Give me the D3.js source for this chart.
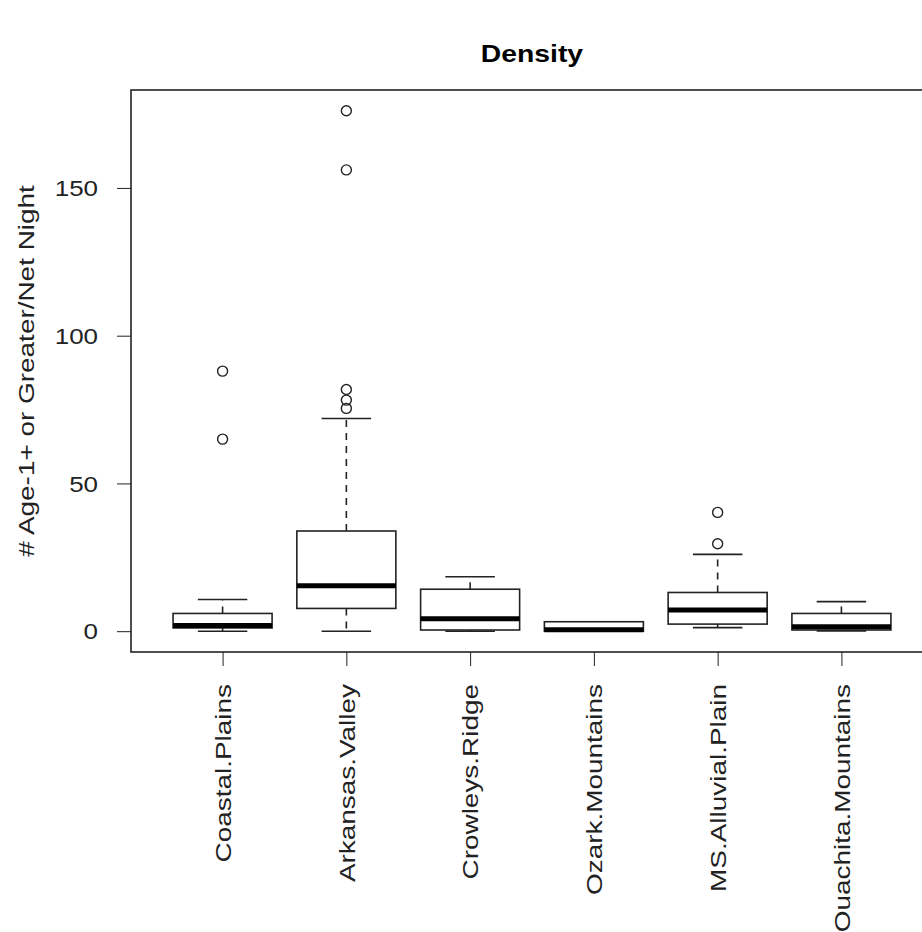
<!DOCTYPE html>
<html>
<head>
<meta charset="utf-8">
<script src="https://cdn.jsdelivr.net/npm/d3@7"></script>
<style>
  html, body { margin: 0; padding: 0; background: #fff; }
  svg { display: block; font-family: "Liberation Sans", Arial, sans-serif; }
</style>
</head>
<body>
<div id="chart"></div>
<script>
// --- data ---
const categories = ["Coastal.Plains", "Arkansas.Valley", "Crowleys.Ridge", "Ozark.Mountains", "MS.Alluvial.Plain", "Ouachita.Mountains"];
const whiskerLow = [0, 0, 0, 0, 1.2, 0.1];
const q1 = [1.1, 7.7, 0.4, 0, 2.4, 0.4];
const median = [1.9, 15.4, 4.2, 0.5, 7.2, 1.5];
const q3 = [6.0, 33.9, 14.2, 3.2, 13.1, 6.0];
const whiskerHigh = [10.7, 72.0, 18.4, 3.2, 26.0, 10.0];
const outliers = [
  [65.0, 88.0],
  [75.4, 78.2, 81.8, 156.1, 176.1],
  [],
  [],
  [29.6, 40.2],
  []
];
const yTicks = [0, 50, 100, 150];

const width = 922, height = 932;
// plot region (right edge runs past the canvas, as in the reference)
const margin = { top: 90, left: 131, bottom: 280 };
const plotRight = 933;
const plotBottom = height - margin.bottom;

const svg = d3.select("#chart").append("svg")
  .attr("width", width)
  .attr("height", height);

// R style axis extension: 4% on each side
const n = categories.length;
const x = d3.scaleLinear()
  .domain([0.5 - 0.04 * n, n + 0.5 + 0.04 * n])
  .range([margin.left, plotRight]);

const yMax = d3.max(outliers.flat().concat(whiskerHigh));
const yMin = 0;
const pad = (yMax - yMin) * 0.04;
const y = d3.scaleLinear()
  .domain([yMin - pad, yMax + pad])
  .range([plotBottom, margin.top]);

const ink = "#222";
const boxW = 0.8 * (x(2) - x(1));
const capW = boxW / 2;
const labelFont = "22px";
// the reference glyphs are wider than Liberation Sans, stretch along the text
const wideH = 1.18;
const wideV = 1.27;

// Title
svg.append("text")
  .attr("transform", `translate(${(margin.left + plotRight) / 2},62) scale(${wideH},1)`)
  .attr("text-anchor", "middle")
  .style("font-size", "24px")
  .style("font-weight", "bold")
  .attr("fill", "#000")
  .text("Density");

// Y axis
const yAxis = svg.append("g")
  .attr("transform", `translate(${margin.left},0)`)
  .call(d3.axisLeft(y).tickValues(yTicks).tickSize(14).tickFormat(""))
  .call(g => g.select(".domain").remove())
  .call(g => g.selectAll("line").attr("stroke", ink));

yAxis.selectAll(".tick")
  .append("text")
  .attr("transform", `translate(-33,0) scale(${wideH},1)`)
  .attr("text-anchor", "end")
  .attr("dy", "0.35em")
  .attr("fill", "#222")
  .style("font-size", labelFont)
  .text(d => d);

// X axis (rotated labels)
const xAxis = svg.append("g")
  .attr("transform", `translate(0,${plotBottom})`)
  .call(d3.axisBottom(x).tickValues(d3.range(1, n + 1)).tickSize(14).tickFormat(""))
  .call(g => g.select(".domain").remove())
  .call(g => g.selectAll("line").attr("stroke", ink));

xAxis.selectAll(".tick")
  .append("text")
  .attr("transform", `translate(0,32) rotate(-90) scale(${wideV},1)`)
  .attr("text-anchor", "end")
  .attr("dy", "0.35em")
  .attr("fill", "#222")
  .style("font-size", labelFont)
  .text((d, i) => categories[i]);

// Y axis title
svg.append("text")
  .attr("transform", `translate(26,${(margin.top + plotBottom) / 2}) rotate(-90) scale(${wideV},1)`)
  .attr("text-anchor", "middle")
  .attr("dy", "0.35em")
  .attr("fill", "#222")
  .style("font-size", labelFont)
  .text("# Age-1+ or Greater/Net Night");

// Boxes
const groups = svg.append("g").selectAll("g")
  .data(categories)
  .join("g");

groups.each(function (c, i) {
  const g = d3.select(this);
  const cx = x(i + 1);

  // whiskers (dashed)
  g.append("line")
    .attr("x1", cx).attr("x2", cx)
    .attr("y1", y(q3[i])).attr("y2", y(whiskerHigh[i]))
    .attr("stroke", ink).attr("stroke-width", 1.6)
    .attr("stroke-dasharray", "7 6");
  g.append("line")
    .attr("x1", cx).attr("x2", cx)
    .attr("y1", y(q1[i])).attr("y2", y(whiskerLow[i]))
    .attr("stroke", ink).attr("stroke-width", 1.6)
    .attr("stroke-dasharray", "7 6");

  // caps
  [whiskerHigh[i], whiskerLow[i]].forEach(v => {
    g.append("line")
      .attr("x1", cx - capW / 2).attr("x2", cx + capW / 2)
      .attr("y1", y(v)).attr("y2", y(v))
      .attr("stroke", ink).attr("stroke-width", 1.6);
  });

  // box
  g.append("rect")
    .attr("x", cx - boxW / 2)
    .attr("y", y(q3[i]))
    .attr("width", boxW)
    .attr("height", Math.max(0, y(q1[i]) - y(q3[i])))
    .attr("fill", "#fff")
    .attr("stroke", ink)
    .attr("stroke-width", 1.6);

  // median
  g.append("line")
    .attr("x1", cx - boxW / 2).attr("x2", cx + boxW / 2)
    .attr("y1", y(median[i])).attr("y2", y(median[i]))
    .attr("stroke", "#000").attr("stroke-width", 5);

  // outliers
  g.selectAll("circle")
    .data(outliers[i])
    .join("circle")
    .attr("cx", cx)
    .attr("cy", d => y(d))
    .attr("r", 5)
    .attr("fill", "none")
    .attr("stroke", ink)
    .attr("stroke-width", 1.4);
});

// plot frame
svg.append("rect")
  .attr("x", margin.left)
  .attr("y", margin.top)
  .attr("width", plotRight - margin.left)
  .attr("height", plotBottom - margin.top)
  .attr("fill", "none")
  .attr("stroke", ink)
  .attr("stroke-width", 1.6);
</script>
</body>
</html>
